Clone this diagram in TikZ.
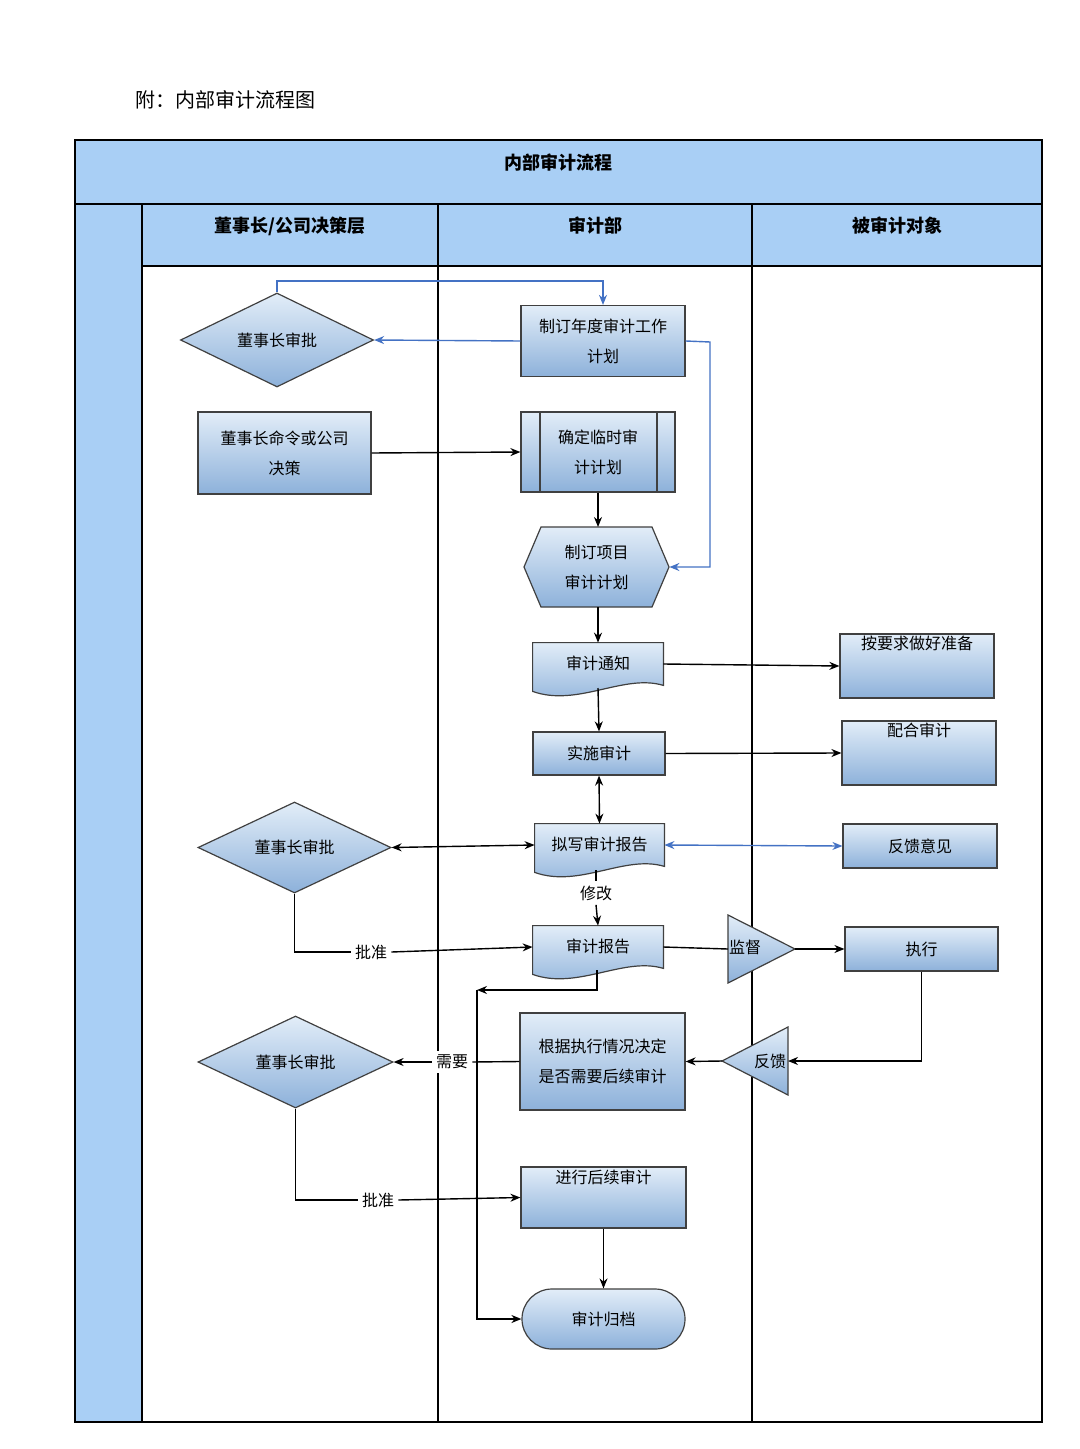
\documentclass[tikz,border=0pt]{standalone}
\usepackage{fontspec}
\setmainfont{Noto Sans CJK SC}
\usetikzlibrary{shapes.geometric,calc,arrows.meta}
\definecolor{lane}{HTML}{A9CFF5}
\definecolor{ctop}{HTML}{E2EDF8}
\definecolor{cbot}{HTML}{8DB1DA}
\definecolor{bl}{HTML}{4472C4}
\tikzset{
 fillbox/.style={draw=black!75,line width=0.6pt,top color=ctop,bottom color=cbot},
 box/.style={fillbox,rectangle,inner sep=1pt,align=center,font=\fontsize{8}{15}\selectfont},
 ghost/.style={rectangle,inner sep=1pt,align=center,font=\fontsize{8}{15}\selectfont},
 dia/.style={fillbox,diamond,aspect=2,inner sep=0pt,font=\fontsize{8}{10}\selectfont},
 lbl/.style={fill=white,inner sep=2pt,font=\fontsize{8}{10}\selectfont},
 arr/.style={-{Stealth[length=5pt,width=4pt]},line width=0.7pt},
 barr/.style={arr,draw=bl},
 hdr/.style={font=\bfseries\fontsize{9}{11}\selectfont},
}
\begin{document}
\begin{tikzpicture}[x=0.5pt,y=-0.5pt]
\useasboundingbox (0,0) rectangle (1080,1449);
\fill[white] (0,0) rectangle (1080,1449);
\node[anchor=west,font=\fontsize{10}{12}\selectfont] (title) at (128,100) {附：内部审计流程图};
% frame
\fill[lane] (75,140) rectangle (1042,266);
\fill[lane] (75,204) rectangle (142,1422);
\draw[line width=1pt] (75,140) rectangle (1042,1422);
\draw[line width=0.7pt] (75,204) -- (1042,204) (142,266) -- (1042,266)
 (142,204) -- (142,1422) (438,204) -- (438,1422) (752,204) -- (752,1422);
\node[hdr] (h0) at (558,163) {内部审计流程};
\node[hdr] (h1) at (290,226) {董事长/公司决策层};
\node[hdr] (h2) at (595,226) {审计部};
\node[hdr] (h3) at (897,226) {被审计对象};
% nodes
\node[dia,minimum width=96.5pt,minimum height=47pt] (d1) at (277,340) {董事长审批};
\node[box,minimum width=82pt,minimum height=35.5pt] (p1) at (603,341) {制订年度审计工作\\计划};
\node[box,minimum width=86.5pt,minimum height=41pt] (r1) at (284.5,453) {董事长命令或公司\\决策};
\node[box,minimum width=77pt,minimum height=40pt] (p2) at (598,452) {确定临时审\\计计划};
\draw[black!75,line width=0.6pt] (540,412) -- (540,492) (657,412) -- (657,492);
\node[ghost,minimum width=72.5pt,minimum height=40pt] (hx) at (596.5,567) {};
\path[fillbox] (524,567) -- (541,527) -- (652,527) -- (669,567) -- (652,607) -- (541,607) -- cycle;
\node[ghost] at (hx) {制订项目\\审计计划};
% documents
\foreach \n/\cx/\cy/\w/\t in {doc1/598/664/65/审计通知,doc2/599.5/845/64.5/拟写审计报告,doc3/598/947/65/审计报告}{
 \node[ghost,minimum width=\w pt,minimum height=21pt] (\n) at (\cx,\cy) {};
 \path[fillbox] (\n.north west) -- (\n.north east) -- (\n.south east)
  .. controls ($(\n.south east)+(-40,-12)$) and ($(\n.south west)+(45,22)$) .. ($(\n.south west)+(0,6)$) -- cycle;
 \node[ghost] at ($(\n)+(0,-1)$) {\t};
}
\node[box,minimum width=77pt,minimum height=32pt] (e1) at (917,666) {按要求做好准备\\[8pt]};
\node[box,minimum width=66pt,minimum height=21.5pt] (r2) at (599,753.5) {实施审计};
\node[box,minimum width=77pt,minimum height=32pt] (e2) at (919,753) {配合审计\\[8pt]};
\node[box,minimum width=77pt,minimum height=22pt] (e3) at (920,846) {反馈意见};
\node[dia,minimum width=96.5pt,minimum height=45.5pt] (d2) at (294.5,847.5) {董事长审批};
\node[lbl] (xg) at (596,893) {修改};
\node[ghost,minimum width=33.5pt,minimum height=34pt] (t1) at (750,949) {};
\path[fillbox] (728,915) -- (795,949) -- (728,983) -- cycle;
\node[ghost,font=\fontsize{8}{10}\selectfont] at (745,947) {监督};
\node[box,minimum width=76.5pt,minimum height=22pt] (e4) at (921.5,949) {执行};
\node[box,minimum width=82.5pt,minimum height=48.5pt] (r3) at (602.5,1061.5) {根据执行情况决定\\是否需要后续审计};
\node[ghost,minimum width=33pt,minimum height=34pt] (t2) at (766,1061) {};
\path[fillbox] (788,1027) -- (722,1061) -- (788,1095) -- cycle;
\node[ghost,font=\fontsize{8}{10}\selectfont] at (770,1061) {反馈};
\node[dia,minimum width=97.5pt,minimum height=46pt] (d3) at (295.5,1062) {董事长审批};
\node[box,minimum width=82.5pt,minimum height=30.5pt] (r4) at (603.5,1197.5) {进行后续审计\\[6pt]};
\node[box,rounded corners=15pt,minimum width=81.5pt,minimum height=30pt] (ar) at (603.5,1319) {审计归档};
% connectors
\draw[barr] (d1.north) -- (277,281) -| (p1.north);
\draw[barr] (p1.west) -- (d1.east);
\draw[barr] (p1.east) -- (710,342) |- (hx.east);
\draw[arr] (r1.east) -- (p2.west);
\draw[arr] (p2.south) -- (598,527);
\draw[arr] (598,607) -- (doc1.north);
\draw[arr] (doc1.east) -- (e1.west);
\draw[arr] (598,688) -- (r2.north);
\draw[arr] (r2.east) -- (e2.west);
\draw[arr,{Stealth[length=5pt,width=4pt]}-{Stealth[length=5pt,width=4pt]}] (r2.south) -- (doc2.north);
\draw[arr,{Stealth[length=5pt,width=4pt]}-{Stealth[length=5pt,width=4pt]}] (doc2.west) -- (d2.east);
\draw[barr,{Stealth[length=5pt,width=4pt]}-{Stealth[length=5pt,width=4pt]}] (doc2.east) -- (e3.west);
\draw[line width=0.7pt] (596,870) -- (xg.north);
\draw[arr] (xg.south) -- (doc3.north);
\node[lbl] (pz1) at (371,952) {批准};
\draw[line width=0.7pt] (d2.south) |- (pz1.west);
\draw[arr] (pz1.east) -- (doc3.west);
\draw[line width=0.7pt] (doc3.east) -- (728,949);
\draw[arr] (795,949) -- (e4.west);
\draw[arr] (e4.south) |- (788,1061);
\draw[arr] (722,1061) -- (r3.east);
\draw[arr] (597,970) |- (477,990);
\draw[arr] (477,990) |- (ar.west);
\node[lbl] (xy) at (452,1062) {需要};
\draw[line width=0.7pt] (r3.west) -- (xy.east);
\draw[arr] (xy.west) -- (d3.east);
\node[lbl] (pz2) at (378,1200) {批准};
\draw[line width=0.7pt] (d3.south) |- (pz2.west);
\draw[arr] (pz2.east) -- (r4.west);
\draw[arr] (r4.south) -- (ar.north);
\end{tikzpicture}
\end{document}
